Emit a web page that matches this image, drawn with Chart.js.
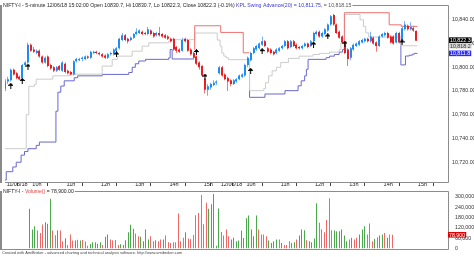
<!DOCTYPE html>
<html>
<head>
<meta charset="utf-8">
<script src="https://cdn.jsdelivr.net/npm/chart.js@4/dist/chart.umd.min.js"></script>
<style>
  html, body { margin: 0; padding: 0; background: #fff; }
  #wrap { position: relative; width: 474px; height: 257px; overflow: hidden; }
  canvas { position: absolute; left: 0; }
  #price { top: 0; }
  #vol { top: 189px; }
</style>
</head>
<body>
<div id="wrap">
  <canvas id="price" width="474" height="189"></canvas>
  <canvas id="vol" width="474" height="68"></canvas>
</div>
<script>
// time axis: bar index -> label
const tickIdx = [0, 9, 21, 33, 45, 57, 69, 75, 84, 96, 108, 120, 132, 144];
const tickLbl = ['11/06/18', '10h', '11h', '12h', '13h', '14h', '15h', '12/06/18', '10h', '11h', '12h', '13h', '14h', '15h'];
const priceTicks = [10720, 10740, 10760, 10780, 10800, 10820, 10840];
const volTicks = [0, 60000, 120000, 180000, 240000, 300000];

// 5-minute bars, 11/06 09:15 .. 12/06 15:00
const opens = [
  10782, 10788, 10789, 10798, 10795, 10792, 10791, 10802, 10804, 10819,
  10815, 10812, 10814, 10809, 10804, 10809, 10802, 10800, 10797, 10801,
  10797, 10803, 10797, 10796, 10794, 10805, 10806, 10807, 10807, 10809,
  10808, 10812, 10813, 10812, 10811, 10810, 10808, 10811, 10811, 10814,
  10816, 10823, 10827, 10824, 10823, 10825, 10828, 10829, 10830, 10829,
  10828, 10831, 10829, 10827, 10829, 10828, 10827, 10826, 10824, 10824,
  10817, 10815, 10814, 10824, 10823, 10815, 10812, 10809, 10804, 10801,
  10790, 10781, 10783, 10785, 10787,
  10795, 10800, 10794, 10791, 10789,
  10786, 10788, 10790, 10792, 10793, 10802, 10806, 10812, 10815, 10816,
  10819, 10822, 10816, 10815, 10813, 10812, 10814, 10816, 10818, 10822,
  10817, 10822, 10819, 10817, 10816, 10818, 10820, 10818, 10822, 10828,
  10830, 10826, 10828, 10831, 10836, 10844, 10836, 10830, 10826, 10820,
  10815, 10808, 10815, 10818, 10819, 10821, 10822, 10824, 10822, 10825,
  10821, 10818, 10826, 10827, 10829, 10826, 10826, 10821, 10829, 10822,
  10832, 10835, 10832, 10833, 10830.7
];
const highs = [
  10790, 10792, 10799, 10799, 10796, 10793, 10803, 10805, 10821, 10820,
  10817, 10815, 10815, 10810, 10809, 10810, 10803, 10801, 10801, 10802,
  10805, 10804, 10798, 10797, 10806, 10808, 10808, 10809, 10810, 10810,
  10814, 10814, 10814, 10813, 10812, 10811, 10812, 10813, 10816, 10817,
  10825, 10829, 10828, 10825, 10826, 10829, 10833, 10832, 10831, 10830,
  10834, 10832, 10830, 10830, 10834, 10829, 10828, 10827, 10825, 10825,
  10818, 10816, 10825, 10825, 10824, 10816, 10813, 10810, 10805, 10802,
  10791, 10786, 10787, 10789, 10789,
  10801, 10801, 10795, 10792, 10790,
  10790, 10791, 10794, 10795, 10803, 10809, 10813, 10817, 10819, 10821,
  10826, 10823, 10817, 10816, 10814, 10816, 10817, 10819, 10823, 10823,
  10823, 10823, 10820, 10818, 10819, 10821, 10821, 10823, 10830, 10831,
  10831, 10830, 10833, 10837, 10844, 10845, 10837, 10831, 10827, 10821,
  10816, 10817, 10820, 10821, 10823, 10824, 10825, 10825, 10830, 10826,
  10822, 10827, 10829, 10830, 10830, 10827, 10827, 10830, 10830, 10834,
  10839, 10836, 10838, 10835, 10830.7
];
const lows = [
  10780, 10786, 10788, 10793, 10790, 10789, 10790, 10801, 10803, 10813,
  10812, 10811, 10808, 10803, 10803, 10800, 10798, 10796, 10796, 10797,
  10796, 10795, 10794, 10793, 10793, 10804, 10805, 10805, 10806, 10807,
  10807, 10811, 10811, 10810, 10808, 10807, 10807, 10810, 10810, 10813,
  10815, 10822, 10822, 10820, 10822, 10824, 10827, 10828, 10827, 10827,
  10827, 10827, 10825, 10826, 10826, 10825, 10824, 10823, 10821, 10814,
  10812, 10812, 10813, 10821, 10813, 10810, 10807, 10802, 10798, 10792,
  10778, 10776, 10781, 10784, 10785,
  10794, 10792, 10789, 10780, 10784,
  10785, 10787, 10789, 10791, 10792, 10800, 10805, 10811, 10814, 10815,
  10818, 10817, 10812, 10811, 10810, 10811, 10813, 10815, 10817, 10815,
  10816, 10817, 10815, 10815, 10815, 10817, 10816, 10817, 10821, 10827,
  10825, 10825, 10827, 10830, 10835, 10835, 10828, 10824, 10820, 10811,
  10801, 10806, 10814, 10817, 10818, 10820, 10821, 10821, 10821, 10819,
  10813, 10817, 10825, 10826, 10824, 10820, 10819, 10820, 10820, 10821,
  10831, 10831, 10831, 10830, 10822.3
];
const closes = [
  10788, 10790, 10798, 10794, 10791, 10790, 10802, 10804, 10819, 10814,
  10813, 10814, 10809, 10804, 10808, 10801, 10799, 10797, 10800, 10798,
  10804, 10796, 10795, 10794, 10805, 10807, 10807, 10808, 10809, 10808,
  10813, 10813, 10812, 10811, 10809, 10808, 10811, 10812, 10815, 10816,
  10824, 10827, 10823, 10822, 10825, 10828, 10830, 10831, 10828, 10828,
  10832, 10828, 10826, 10829, 10827, 10826, 10825, 10824, 10822, 10815,
  10814, 10813, 10823, 10822, 10814, 10811, 10808, 10803, 10800, 10793,
  10781, 10784, 10786, 10787, 10788,
  10800, 10793, 10790, 10788, 10786,
  10789, 10790, 10793, 10794, 10802, 10808, 10812, 10816, 10818, 10820,
  10822, 10818, 10813, 10812, 10811, 10815, 10816, 10818, 10822, 10816,
  10822, 10818, 10816, 10816, 10818, 10820, 10817, 10822, 10829, 10830,
  10826, 10829, 10832, 10836, 10843, 10836, 10829, 10825, 10821, 10812,
  10807, 10816, 10819, 10820, 10822, 10823, 10824, 10822, 10826, 10820,
  10818, 10826, 10828, 10829, 10825, 10821, 10820, 10829, 10821, 10833,
  10836, 10832, 10834, 10831, 10822.3
];
const volumes = [
  231000, 110000, 129000, 104000, 90000, 139000, 153000, 143000, 290000, 104000,
  76000, 104000, 104000, 41000, 59000, 20000, 80000, 45000, 45000, 50000,
  45000, 48000, 40000, 15000, 25000, 35000, 35000, 27000, 35000, 20000,
  67000, 80000, 51000, 47000, 49000, 20000, 23000, 20000, 47000, 94000,
  137000, 114000, 86000, 71000, 67000, 41000, 110000, 51000, 71000, 41000,
  47000, 41000, 51000, 51000, 75000, 35000, 31000, 35000, 35000, 204000,
  41000, 61000, 94000, 57000, 55000, 78000, 194000, 207000, 312000, 141000,
  266000, 231000, 257000, 318000, 15000,
  233000, 96000, 75000, 110000, 71000,
  51000, 61000, 41000, 45000, 104000, 60000, 175000, 192000, 110000, 71000,
  192000, 110000, 80000, 80000, 71000, 45000, 31000, 41000, 51000, 51000,
  31000, 20000, 20000, 41000, 31000, 35000, 51000, 75000, 110000, 106000,
  47000, 41000, 35000, 58000, 263000, 149000, 112000, 94000, 165000, 292000,
  106000, 104000, 100000, 100000, 110000, 75000, 41000, 51000, 61000, 51000,
  61000, 80000, 110000, 129000, 80000, 145000, 41000, 55000, 65000, 75000,
  80000, 90000, 61000, 80000, 78900
];

// KPL swing step lines: [bar index where level starts, level]; null breaks the line
const redSteps = [
  [66.3, 10815], [66.4, 10835], [75.5, 10829.4], [83.4, 10812.2], [85.5, 10812.2], [85.5, null],
  [118.7, 10815], [118.8, 10846], [134.5, 10835.8], [138.7, 10834.5], [144.4, 10834.5]
];
const graySteps = [
  [-0.8, 10731.4], [7.4, 10760], [8.3, 10784], [10.3, 10785.6], [10.9, 10790], [16.7, 10792.8],
  [22.5, 10794.2], [34, 10801], [37.5, 10806.7], [39.3, 10809.4], [44.5, 10813.6], [48, 10817.8],
  [50.3, 10820.6], [57.3, 10822], [58.4, 10823.3],
  [66.4, 10828.9], [74.3, 10823], [75.3, 10817.8], [75.9, 10812], [76.6, 10809.4], [77.4, 10808.1],
  [78.2, 10806.4],
  [85.6, 10780.3], [90.6, 10782.2], [91.2, 10787], [92.3, 10792.8], [93.5, 10797], [95, 10800],
  [96.5, 10804], [99.2, 10807.5], [103, 10809.4], [107.8, 10810.8], [110.1, 10811.7], [113.6, 10812.8],
  [117, 10815], [117.6, 10820.6],
  [118.9, 10844.5], [124.3, 10840], [125.5, 10834.4], [126.3, 10829], [127.3, 10825.5],
  [138.6, 10818.15], [144.4, 10818.15]
];
const blueSteps = [
  [-0.8, 10705], [0.4, 10712], [2.7, 10716], [3.9, 10720], [5.6, 10726], [6.8, 10729], [8, 10731.4],
  [10.9, 10734.2], [12, 10737], [17.8, 10763], [18.5, 10779], [19.5, 10784.2], [20.7, 10788.6],
  [24.2, 10791.2], [25.4, 10792.8], [34, 10794], [43.3, 10795.6], [44.5, 10800], [45.6, 10803],
  [46.8, 10805.3], [49.2, 10806.7], [57.3, 10808], [57.8, 10815], [58.5, 10807], [66.2, 10807], [66.2, null],
  [85.5, 10804], [85.6, 10774.7], [91, 10777.5], [98, 10780.3], [102.6, 10784.4], [103.7, 10788.6],
  [104.9, 10792.8], [105.5, 10798.3], [106.1, 10806.7], [112.4, 10808.1], [113.6, 10809.4],
  [115.3, 10810.8], [117, 10812.8], [118.2, 10815], [118.8, 10815], [118.8, null],
  [138.5, 10821], [138.6, 10802], [140.2, 10809.5], [141.5, 10810.2], [142.6, 10811],
  [143.3, 10811.75], [144.4, 10811.75]
];

// buy arrows
const arrowIdx = [2, 6, 8, 39, 67, 70, 86, 90, 108, 113, 119, 139];
const arrowPrice = [10784.4, 10788.6, 10800.6, 10810.8, 10812.8, 10792.2, 10797, 10813.6, 10819.2, 10826, 10820, 10821];

const FONT = "'Liberation Sans', Arial, sans-serif";
const UP = 'rgb(30,140,245)', DN = 'rgb(232,30,36)';
const UP_W = 'rgb(120,178,245)', DN_W = 'rgb(240,120,120)';
const VOL_UP = 'rgb(76,168,76)', VOL_DN = 'rgb(238,104,104)';

const xMin = -0.035, xMax = xMin + 446 / 2.875;

function fmt(v, d) {
  return v.toLocaleString('en-US', { minimumFractionDigits: d, maximumFractionDigits: d });
}
function stepPts(steps) {
  return steps.map(s => ({ x: s[0], y: s[1] }));
}
function lastLevel(steps) {
  return steps[steps.length - 1][1];
}

const isUp = closes.map((c, i) => c >= opens[i]);
const bodies = closes.map((c, i) => ({ x: i, y: [opens[i], c] }));
const wicks = closes.map((c, i) => ({ x: i, y: [lows[i], highs[i]] }));

function makeArrow() {
  const c = document.createElement('canvas');
  c.width = 5; c.height = 6;
  const g = c.getContext('2d');
  g.fillStyle = '#000';
  g.fillRect(2, 0, 1, 6);
  g.fillRect(1, 1, 3, 1);
  g.fillRect(0, 2, 5, 1);
  return c;
}

// draw coloured text pieces over a frame line
function drawPieces(ctx, pieces, x, y, size) {
  ctx.font = size + 'px ' + FONT;
  ctx.textBaseline = 'middle';
  ctx.textAlign = 'left';
  let w = 0;
  pieces.forEach(p => { w += ctx.measureText(p[0]).width; });
  ctx.fillStyle = '#fff';
  ctx.fillRect(x - 1, y - 3, w + 2, 6);
  pieces.forEach(p => {
    ctx.fillStyle = p[1];
    ctx.fillText(p[0], x, y);
    x += ctx.measureText(p[0]).width;
  });
}

function drawFrame(ctx, a) {
  ctx.strokeStyle = '#8c8c8c';
  ctx.lineWidth = 1;
  ctx.beginPath();
  ctx.moveTo(a.left, a.top + 0.5);
  ctx.lineTo(a.right + 0.5, a.top + 0.5);
  ctx.lineTo(a.right + 0.5, a.bottom + 0.5);
  ctx.lineTo(a.left, a.bottom + 0.5);
  ctx.stroke();
  ctx.fillStyle = '#8a8a8a';
  ctx.fillRect(0, a.top, 2, a.bottom - a.top + 1);
}

function drawValueBoxes(ctx, scale, boxes, x) {
  const h = 5.6;
  const items = boxes.map(b => ({ ...b, y: scale.getPixelForValue(b.v) }));
  items.sort((p, q) => q.y - p.y);
  for (let k = 1; k < items.length; k++) {
    if (items[k - 1].y - items[k].y < h) items[k].y = items[k - 1].y - h;
  }
  ctx.font = '5.3px ' + FONT;
  ctx.textBaseline = 'middle';
  ctx.textAlign = 'left';
  items.forEach(b => {
    const w = ctx.measureText(b.txt).width + 2;
    ctx.fillStyle = b.bg;
    ctx.fillRect(x, b.y - h / 2, w, h);
    ctx.fillStyle = b.fg;
    ctx.fillText(b.txt, x + 1, b.y + 0.3);
  });
}

// keep thin bars on whole pixels
const snapBars = {
  id: 'snapBars',
  afterDatasetsUpdate(chart) {
    chart.data.datasets.forEach((ds, k) => {
      const meta = chart.getDatasetMeta(k);
      if (meta.type !== 'bar') return;
      meta.data.forEach(el => {
        el.x = Math.round(el.x - el.width / 2) + el.width / 2;
      });
    });
  }
};

const pricePane = {
  id: 'pricePane',
  afterDraw(chart) {
    const { ctx, chartArea: a } = chart;
    ctx.save();
    drawFrame(ctx, a);
    drawPieces(ctx, [
      ['NIFTY-I - 5-minute 12/06/18 15:02:00 Open 10830.7, Hi 10830.7, Lo 10822.3, Close 10822.3 (-0.1%) ', '#222'],
      ['KPL Swing Advance(20) = 10,811.75, ', '#3a3ad0'],
      ['= 10,818.15', '#555']
    ], 3, a.top + 0.5, 5.2);
    const last = closes.length - 1;
    drawValueBoxes(ctx, chart.scales.y, [
      { v: closes[last], txt: fmt(closes[last], 1), bg: '#000', fg: '#fff' },
      { v: lastLevel(graySteps), txt: fmt(lastLevel(graySteps), 1), bg: '#d6d6d6', fg: '#333' },
      { v: lastLevel(blueSteps), txt: fmt(lastLevel(blueSteps), 1), bg: '#2a2af0', fg: '#fff' }
    ], a.right + 1);
    ctx.restore();
  }
};

const volPane = {
  id: 'volPane',
  afterDraw(chart) {
    const { ctx, chartArea: a } = chart;
    ctx.save();
    drawFrame(ctx, a);
    drawPieces(ctx, [['NIFTY-I - ', '#222'], ['Volume()', '#e03c3c'], [' = 78,900.00', '#222']], 3, a.top + 0.5, 5.1);
    const last = volumes.length - 1;
    drawValueBoxes(ctx, chart.scales.y, [
      { v: volumes[last], txt: fmt(volumes[last], 0), bg: '#e00000', fg: '#fff' }
    ], a.right);
    ctx.font = '3.95px ' + FONT;
    ctx.fillStyle = '#444';
    ctx.textBaseline = 'middle';
    ctx.fillText('Created with AmiBroker - advanced charting and technical analysis software. http://www.amibroker.com', 2, a.bottom + 4);
    ctx.restore();
  }
};

new Chart(document.getElementById('price'), {
  type: 'bar',
  data: {
    datasets: [
      { type: 'line', data: arrowIdx.map((x, k) => ({ x: x, y: arrowPrice[k] })), showLine: false,
        pointStyle: makeArrow(), pointRadius: 3, order: 0 },
      { data: bodies, backgroundColor: isUp.map(u => u ? UP : DN), barThickness: 2, grouped: false,
        minBarLength: 1, inflateAmount: 0, order: 1 },
      { data: wicks, backgroundColor: isUp.map(u => u ? UP_W : DN_W), barThickness: 1, grouped: false,
        inflateAmount: 0, order: 2 },
      { type: 'line', data: stepPts(redSteps), borderColor: 'rgb(238,112,112)', borderWidth: 1,
        pointRadius: 0, stepped: true, spanGaps: false, order: 3 },
      { type: 'line', data: stepPts(graySteps), borderColor: 'rgb(204,204,204)', borderWidth: 1,
        pointRadius: 0, stepped: true, spanGaps: false, order: 4 },
      { type: 'line', data: stepPts(blueSteps), borderColor: 'rgb(104,104,208)', borderWidth: 1,
        pointRadius: 0, stepped: true, spanGaps: false, order: 5 }
    ]
  },
  options: {
    responsive: false,
    animation: false,
    devicePixelRatio: 1,
    layout: { padding: { top: 3, left: 2, right: 0, bottom: 0 } },
    plugins: { legend: { display: false }, tooltip: { enabled: false } },
    scales: {
      x: {
        type: 'linear', min: xMin, max: xMax, offset: false,
        afterBuildTicks: s => { s.ticks = tickIdx.map(v => ({ value: v })); },
        afterFit: s => { s.height = 7; s.paddingLeft = 0; s.paddingRight = 0; },
        grid: { drawOnChartArea: false, drawTicks: true, tickLength: 4, color: '#444' },
        border: { display: false },
        ticks: {
          autoSkip: false, maxRotation: 0, align: 'start', padding: -4.5,
          font: { size: 5.5, family: FONT }, color: '#222',
          callback: (v, i) => ' ' + tickLbl[i]
        }
      },
      y: {
        position: 'right', min: 10703.33, max: 10852.5,
        afterBuildTicks: s => { s.ticks = priceTicks.map(v => ({ value: v })); },
        afterFit: s => { s.width = 26; s.paddingTop = 0; s.paddingBottom = 0; },
        grid: { display: false, drawTicks: false },
        border: { display: false },
        ticks: { padding: 4, font: { size: 5.3, family: FONT }, color: '#333', callback: v => fmt(v, 2) }
      }
    }
  },
  plugins: [snapBars, pricePane]
});

new Chart(document.getElementById('vol'), {
  type: 'bar',
  data: {
    datasets: [
      { data: volumes.map((v, i) => ({ x: i, y: v })), backgroundColor: isUp.map(u => u ? VOL_UP : VOL_DN),
        barThickness: 1, grouped: false, inflateAmount: 0 }
    ]
  },
  options: {
    responsive: false,
    animation: false,
    devicePixelRatio: 1,
    layout: { padding: { top: 2, left: 2, right: 0, bottom: 8 } },
    plugins: { legend: { display: false }, tooltip: { enabled: false } },
    scales: {
      x: { type: 'linear', min: xMin, max: xMax, display: false },
      y: {
        position: 'right', min: -4094, max: 335088,
        afterBuildTicks: s => { s.ticks = volTicks.map(v => ({ value: v })); },
        afterFit: s => { s.width = 26; s.paddingTop = 0; s.paddingBottom = 0; },
        grid: { display: false, drawTicks: false },
        border: { display: false },
        ticks: { padding: 7, font: { size: 5.3, family: FONT }, color: '#333', callback: v => fmt(v, 0) }
      }
    }
  },
  plugins: [snapBars, volPane]
});
</script>
</body>
</html>
